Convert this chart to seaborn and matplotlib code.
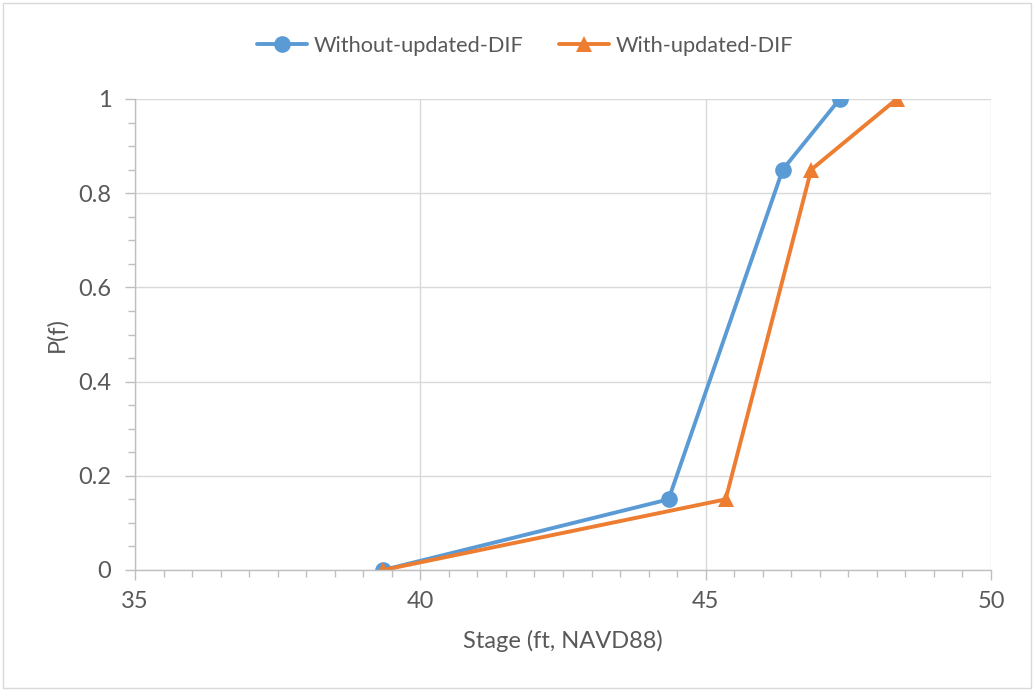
import pandas as pd
import numpy as np
import seaborn as sns
from matplotlib import pyplot as plt
from matplotlib.patches import Rectangle
from matplotlib.ticker import MultipleLocator, FuncFormatter

# Data
stage_without = [39.35, 44.35, 46.35, 47.35]
stage_with = [39.35, 45.35, 46.85, 48.35]
pf_levels = [0.0, 0.15, 0.85, 1.0]
series_names = ["Without-updated-DIF", "With-updated-DIF"]

df = pd.DataFrame({
    "stage": stage_without + stage_with,
    "pf": pf_levels + pf_levels,
    "series": [series_names[0]] * 4 + [series_names[1]] * 4,
})

sns.set_theme(style="white")
plt.rcParams["font.family"] = ["Lato", "DejaVu Sans"]
text_col = "#595959"
grid_col = "#d9d9d9"

fig = plt.figure(figsize=(10.34, 6.91), dpi=100)
ax = fig.add_axes([135 / 1034, 1 - 570 / 691, (991 - 135) / 1034, (570 - 99) / 691])

sns.lineplot(data=df, x="stage", y="pf", hue="series", style="series",
             palette=["#5B9BD5", "#ED7D31"], markers=["o", "^"], dashes=False,
             sort=False, linewidth=2.8, markersize=12, markeredgewidth=0, ax=ax)

ax.set_xlim(35, 50)
ax.set_ylim(0, 1)
ax.xaxis.set_major_locator(MultipleLocator(5))
ax.xaxis.set_minor_locator(MultipleLocator(0.5))
ax.yaxis.set_major_locator(MultipleLocator(0.2))
ax.yaxis.set_minor_locator(MultipleLocator(0.05))
ax.yaxis.set_major_formatter(FuncFormatter(lambda v, p: "%g" % round(v, 2)))
ax.grid(True, which="major", color=grid_col, linewidth=1)
ax.set_axisbelow(True)

for s in ["top", "right"]:
    ax.spines[s].set_visible(False)
for s in ["left", "bottom"]:
    ax.spines[s].set_color("#bfbfbf")
    ax.spines[s].set_linewidth(1)

ax.tick_params(which="both", direction="out", color="#bfbfbf", width=1,
               labelsize=17, labelcolor=text_col)
ax.tick_params(which="major", length=7)
ax.tick_params(which="minor", length=5)
ax.tick_params(axis="x", which="both", bottom=True, pad=8)
ax.tick_params(axis="y", which="both", left=True, pad=10)

ax.set_xlabel("Stage (ft, NAVD88)", fontsize=17, color=text_col, labelpad=13)
ax.set_ylabel("P(f)", fontsize=17, color=text_col, labelpad=8)

# legend centred on the whole chart, like Excel does
ax.legend(loc="center", bbox_to_anchor=(525 / 1034, 1 - 46 / 691), bbox_transform=fig.transFigure,
          ncol=2, frameon=False, fontsize=15.7, labelcolor=text_col, handlelength=2.3,
          columnspacing=1.6, handletextpad=0.3)

fig.patches.append(Rectangle((3 / 1034, 3 / 691), 1 - 6 / 1034, 1 - 6 / 691,
                             transform=fig.transFigure, fill=False,
                             edgecolor=grid_col, linewidth=1))

fig.savefig("out.png", dpi=100)
